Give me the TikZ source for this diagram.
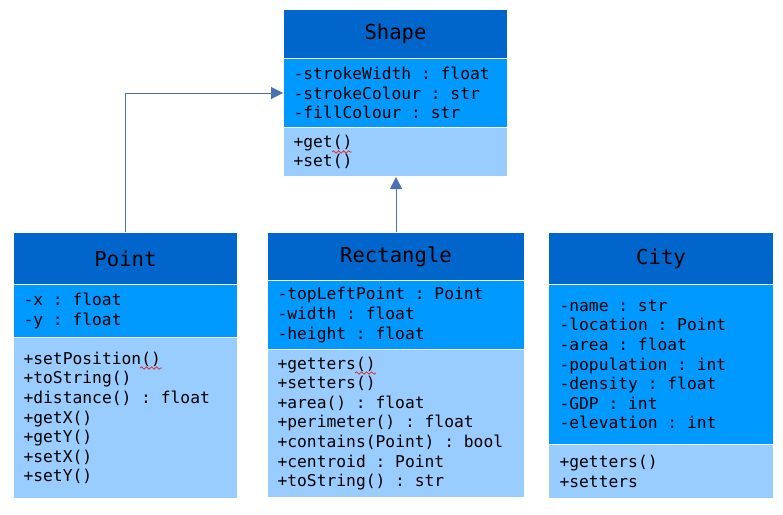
\documentclass[tikz,border=0pt]{standalone}
\usepackage{fontspec}
\setmonofont{DejaVu Sans Mono}
\usetikzlibrary{arrows.meta,decorations.pathmorphing}
\definecolor{titlebg}{HTML}{0066CC}
\definecolor{attrbg}{HTML}{0099FF}
\definecolor{methbg}{HTML}{99CCFF}
\definecolor{conn}{HTML}{4A72B2}
\definecolor{squig}{HTML}{E03030}
\newcommand{\secfont}{\ttfamily\fontsize{16.3}{19.6}\selectfont}
\newcommand{\msp}{\hspace*{9.81pt}}
\tikzset{
  sec/.style={rectangle, draw=white, line width=1pt, anchor=north west,
    inner xsep=10pt, inner ysep=0pt, align=left, font=\secfont},
  ttl/.style={rectangle, draw=white, line width=1pt, anchor=north west,
    fill=titlebg, inner sep=0pt,
    font=\ttfamily\fontsize{20.6}{24}\selectfont},
  inherit/.style={draw=conn, line width=1pt, -{Triangle[length=12pt,width=12pt]}},
  spell/.style={draw=squig, line width=0.8pt, decorate,
    decoration={snake, amplitude=1.2pt, segment length=5pt}}
}
\begin{document}
\begin{tikzpicture}[x=1pt,y=-1pt]
\useasboundingbox (0,0) rectangle (783,514);
% Shape
\node[ttl, minimum width=224pt, minimum height=49pt] (shapeT) at (283,9) {\raisebox{-1pt}{Shape}};
\node[sec, fill=attrbg, text width=204pt, minimum width=224pt, minimum height=69pt] (shapeA) at (283,58)
  {-strokeWidth\msp:\msp float\\-strokeColour\msp:\msp str\\-fillColour\msp:\msp str};
\node[sec, fill=methbg, text width=204pt, minimum width=224pt, minimum height=49pt] (shapeM) at (283,127)
  {+get()\\+set()};
% Point
\node[ttl, minimum width=224pt, minimum height=52pt] (pointT) at (13,232) {Point};
\node[sec, fill=attrbg, text width=204pt, minimum width=224pt, minimum height=53pt] (pointA) at (13,284)
  {-x\msp:\msp float\\-y\msp:\msp float};
\node[sec, fill=methbg, text width=204pt, minimum width=224pt, minimum height=161pt] (pointM) at (13,337)
  {+setPosition()\\+toString()\\+distance()\msp:\msp float\\+getX()\\+getY()\\+setX()\\+setY()};
% Rectangle
\node[ttl, minimum width=257pt, minimum height=48pt] (rectT) at (267,232) {Rectangle};
\node[sec, fill=attrbg, text width=237pt, minimum width=257pt, minimum height=69pt] (rectA) at (267,280)
  {-topLeftPoint\msp:\msp Point\\-width\msp:\msp float\\-height\msp:\msp float};
\node[sec, fill=methbg, text width=237pt, minimum width=257pt, minimum height=148pt] (rectM) at (267,349)
  {+getters()\\+setters()\\+area()\msp:\msp float\\+perimeter()\msp:\msp float\\+contains(Point)\msp:\msp bool\\+centroid\msp:\msp Point\\+toString()\msp:\msp str};
% City
\node[ttl, minimum width=225pt, minimum height=52pt] (cityT) at (548,232) {City};
\node[sec, fill=attrbg, inner xsep=11pt, text width=203pt, minimum width=225pt, minimum height=160pt] (cityA) at (548,284)
  {-name\msp:\msp str\\-location\msp:\msp Point\\-area\msp:\msp float\\-population\msp:\msp int\\-density\msp:\msp float\\-GDP\msp:\msp int\\-elevation\msp:\msp int};
\node[sec, fill=methbg, inner xsep=11pt, text width=203pt, minimum width=225pt, minimum height=54pt] (cityM) at (548,444)
  {+getters()\\+setters};
% connectors
\draw[inherit] (pointT.north) |- (shapeA.west);
\draw[inherit] (rectT.north) -- (rectT.north |- shapeM.south);
% spell-check squiggles
\draw[spell] (332,152) -- (352,152);
\draw[spell] (140,368) -- (162,368);
\draw[spell] (355,373) -- (376,373);
\end{tikzpicture}
\end{document}
